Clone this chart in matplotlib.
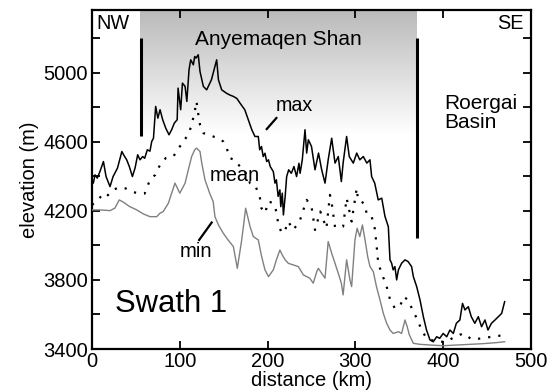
import numpy as np
import matplotlib
matplotlib.use("Agg")
import matplotlib.pyplot as plt

plt.rcParams["font.family"] = ["Liberation Sans", "DejaVu Sans"]

# swath profile values (distance km, elevation m)
max_km = [0, 1.5, 3.4, 6, 9, 13, 16, 20.5, 24, 29, 34, 36, 39.5, 42.5, 46, 49, 52, 54.7, 57.7, 60,
          63, 66, 68, 70, 72.5, 75, 77.5, 80.5, 84, 87.7, 90.7, 93.7, 97, 98, 101, 103, 106, 108,
          110.5, 112.4, 115.4, 117, 118.5, 121, 123, 126.8, 130.6, 136, 140, 142, 144, 147.7, 153,
          157, 161, 165, 168.6, 174, 178, 182, 185.6, 189.4, 191, 193, 195, 197, 199, 201, 203,
          206.5, 208.4, 210, 212, 214, 215, 216.7, 218, 220, 221.7, 224, 227, 230, 233, 235.7, 237,
          239.5, 242.6, 244.5, 246.4, 250, 254, 258, 261.6, 265.4, 269, 273, 276.8, 280.5, 284, 286,
          290, 293, 297.6, 301.5, 305, 309, 313, 316.6, 318.5, 322, 326, 330, 333.7, 337.5, 339.4,
          341.3, 343, 345, 347, 349, 352.6, 356.5, 360, 364, 366, 369.8, 373.6, 377.4, 381, 385,
          388.7, 392.6, 396, 400, 404, 407.7, 411.5, 415, 419, 422, 424.8, 428.6, 432, 436, 440,
          443.7, 447.6, 451, 455, 459, 462.8, 466.6, 470]
max_elev = [4370, 4360, 4408, 4389, 4427, 4485, 4398, 4340, 4398, 4447, 4543, 4524, 4495, 4456, 4398,
            4447, 4524, 4495, 4514, 4504, 4553, 4545, 4601, 4620, 4804, 4736, 4785, 4727, 4678, 4640,
            4669, 4707, 4727, 4910, 4785, 4939, 4920, 4833, 5016, 5074, 5045, 5093, 5084, 5103, 5006,
            4920, 4900, 4958, 5036, 5074, 4958, 4900, 4881, 4870, 4862, 4850, 4823, 4785, 4727, 4669,
            4630, 4630, 4553, 4572, 4514, 4533, 4485, 4495, 4456, 4427, 4360, 4379, 4283, 4321, 4224,
            4302, 4176, 4283, 4398, 4437, 4417, 4456, 4398, 4475, 4417, 4495, 4669, 4534, 4611, 4572,
            4437, 4534, 4437, 4360, 4495, 4620, 4476, 4514, 4369, 4476, 4630, 4514, 4476, 4534, 4495,
            4514, 4476, 4495, 4398, 4360, 4263, 4273, 4167, 4108, 3916, 3896, 3858, 3877, 3800, 3858,
            3896, 3916, 3906, 3877, 3819, 3761, 3684, 3587, 3510, 3452, 3442, 3471, 3462, 3490, 3471,
            3510, 3490, 3549, 3568, 3664, 3626, 3645, 3587, 3549, 3587, 3529, 3568, 3510, 3549, 3568,
            3587, 3606, 3674]

mean_km = [0, 7, 13, 18, 24, 30, 38, 46, 53, 60, 66, 72, 77.5, 84, 92.6, 100, 104, 108, 111, 113.5,
           117, 119, 121, 123, 127, 132.5, 138, 144, 149.5, 153.4, 157, 162, 168, 174, 180, 185.6,
           191, 193, 197, 201, 206.5, 210, 212, 216, 220, 223.6, 229, 235, 237, 240.7, 244.5, 250,
           254, 260, 267, 271, 273, 276.8, 286, 290, 295.7, 301.5, 303, 307, 311, 313, 318.5, 322,
           323.5, 325, 326, 330, 335.6, 339.4, 345, 351, 355, 360, 366, 370, 375.5, 381, 392.6, 404,
           413, 423, 432.4, 445.6, 455, 464.7, 470]
mean_elev = [4234, 4263, 4302, 4290, 4320, 4335, 4330, 4310, 4300, 4300, 4379, 4408, 4466, 4505, 4514,
             4572, 4600, 4630, 4660, 4698, 4775, 4833, 4760, 4698, 4649, 4640, 4630, 4620, 4601, 4563,
             4505, 4495, 4460, 4430, 4360, 4350, 4283, 4215, 4186, 4254, 4244, 4196, 4128, 4070, 4089,
             4138, 4089, 4128, 4147, 4205, 4263, 4224, 4089, 4196, 4099, 4292, 4244, 4105, 4109, 4273,
             4138, 4330, 4263, 4254, 4234, 4176, 4166, 4099, 4031, 3954, 3896, 3838, 3761, 3687, 3635,
             3650, 3703, 3684, 3616, 3577, 3510, 3462, 3442, 3442, 3471, 3490, 3456, 3462, 3471, 3477,
             3475]

min_km = [0, 9, 20.5, 26, 31, 35.7, 43, 51, 58.4, 66, 73.7, 77.4, 81, 87, 90.7, 94.5, 100, 106,
          109.7, 113.5, 117, 119, 123, 125, 128.7, 134, 138, 140, 144, 149.5, 155, 161, 165.5, 170.5,
          175, 180, 183.7, 189.4, 193, 197, 201, 206.5, 210, 214, 216.7, 220, 223.6, 229, 235,
          240.7, 244.5, 248, 252, 256, 257.8, 261.6, 265.4, 269, 273, 276.8, 280.5, 284, 286, 290,
          293.8, 295.7, 299.5, 302, 305, 308, 311, 314, 316.6, 320.4, 324, 328, 331.8, 335.6, 339.4,
          343, 349, 352.6, 356.5, 359, 361.5, 366, 373.6, 385, 400, 415, 430.5, 445.6, 460.8, 470]
min_elev = [4205, 4205, 4201, 4215, 4263, 4250, 4224, 4205, 4182, 4166, 4166, 4186, 4195, 4244, 4302,
            4360, 4302, 4360, 4437, 4514, 4553, 4563, 4543, 4476, 4379, 4302, 4253, 4166, 4118, 4070,
            4031, 3993, 3867, 4031, 4215, 4109, 4051, 4031, 3940, 3858, 3819, 3858, 3916, 3973, 3944,
            3916, 3896, 3887, 3877, 3829, 3819, 3810, 3781, 3848, 3867, 3838, 3810, 4022, 3954, 3896,
            3838, 3781, 3713, 3916, 3800, 3761, 4031, 4099, 4051, 4118, 4031, 3935, 3877, 3848, 3761,
            3684, 3606, 3549, 3510, 3490, 3500, 3490, 3568, 3529, 3481, 3433, 3427, 3423, 3419, 3423,
            3427, 3431, 3437, 3442]

fig = plt.figure(figsize=(5.57, 3.91), dpi=100)
ax = fig.add_axes([0.1652, 0.1074, 0.7881, 0.8683])

ymin, ymax = 3400, 5365

# shaded mountain range, dark at top fading to white
grad = np.linspace(0, 1, 256).reshape(-1, 1)
ax.imshow(grad, extent=[54.5, 370, 4640, 5352], cmap="gray", vmin=-2.7, vmax=1,
          aspect="auto", origin="upper", zorder=0)

ax.plot(max_km, max_elev, color="black", lw=1.1, zorder=3)
ax.plot(mean_km, mean_elev, color="black", lw=1.6, linestyle=(0, (1, 3.6)), zorder=3)
ax.plot(min_km, min_elev, color="#808080", lw=1.0, zorder=3)

# boundaries of the range
ax.plot([55.8, 55.8], [5200, 4630], color="black", lw=2.2, solid_capstyle="butt")
ax.plot([370, 370], [5200, 4040], color="black", lw=2.2, solid_capstyle="butt")

ax.text(5.5, 5283, "NW", fontsize=14.3, ha="left", va="center")
ax.text(492, 5283, "SE", fontsize=14.3, ha="right", va="center")
ax.text(212, 5190, "Anyemaqen Shan", fontsize=15, ha="center", va="center")
ax.text(401, 4767, "Roergai\nBasin", fontsize=15, ha="left", va="center", linespacing=1.0)
ax.text(209.5, 4808, "max", fontsize=14.2, ha="left", va="center")
ax.plot([199, 210], [4673, 4737], color="black", lw=1.6)
ax.text(134, 4402, "mean", fontsize=14.4, ha="left", va="center")
ax.text(100, 3962, "min", fontsize=14.6, ha="left", va="center")
ax.plot([122, 136.3], [4031, 4132], color="black", lw=1.6)
ax.text(26, 3615, "Swath 1", fontsize=22.3, ha="left", va="baseline")

ax.set_xlim(0, 500)
ax.set_ylim(ymin, ymax)
ax.set_xticks(np.arange(0, 501, 100))
ax.set_yticks(np.arange(3400, 5201, 200))
ax.set_yticklabels([str(v) if (v - 3400) % 400 == 0 else "" for v in range(3400, 5201, 200)])
ax.tick_params(direction="in", top=True, right=True, length=6, width=1.3, labelsize=14.5, pad=3)
ax.tick_params(axis="x", pad=2)
for s in ax.spines.values():
    s.set_linewidth(1.6)

ax.set_xlabel("distance (km)", fontsize=14.5, labelpad=0)
ax.set_ylabel("elevation (m)", fontsize=14.5, labelpad=3)

fig.savefig("out.png", dpi=100)
